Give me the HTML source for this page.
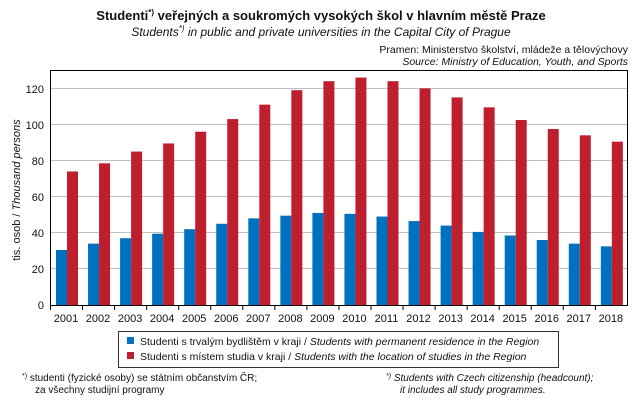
<!DOCTYPE html>
<html><head><meta charset="utf-8"><style>
body{margin:0;background:#fff;width:643px;height:405px;overflow:hidden;font-family:"Liberation Sans",sans-serif;}
</style></head><body>
<svg width="643" height="405" xmlns="http://www.w3.org/2000/svg" font-family="Liberation Sans, sans-serif">
<text x="321" y="20" text-anchor="middle" font-size="13" font-weight="bold" fill="#111">Studenti<tspan font-size="8" dy="-5">*)</tspan><tspan dy="5"> veřejných a soukromých  vysokých  škol v hlavním městě Praze</tspan></text>
<text x="321" y="36" text-anchor="middle" font-size="12" font-style="italic" fill="#111">Students<tspan font-size="8" dy="-5">*)</tspan><tspan dy="5"> in public and private universities in the Capital City of Prague</tspan></text>
<text x="628" y="53" text-anchor="end" font-size="10.5" fill="#111">Pramen:  Ministerstvo školství, mládeže a tělovýchovy</text>
<text x="628" y="65" text-anchor="end" font-size="10.5" font-style="italic" fill="#111">Source: Ministry of Education, Youth, and Sports</text>
<g stroke="#c0c0c0" stroke-width="1">
<line x1="50" x2="627" y1="88.5" y2="88.5"/><line x1="50" x2="627" y1="124.5" y2="124.5"/>
<line x1="50" x2="627" y1="160.5" y2="160.5"/><line x1="50" x2="627" y1="196.5" y2="196.5"/>
<line x1="50" x2="627" y1="232.5" y2="232.5"/><line x1="50" x2="627" y1="268.5" y2="268.5"/>
</g>
<g id="bars"></g>
<rect x="50.5" y="70.5" width="577" height="235" fill="none" stroke="#000" stroke-width="1"/>
<g font-size="11" fill="#111" text-anchor="end">
<text x="44" y="309">0</text><text x="44" y="273">20</text><text x="44" y="237">40</text><text x="44" y="201">60</text><text x="44" y="165">80</text><text x="44" y="129">100</text><text x="44" y="93">120</text>
</g>
<text transform="translate(20,190) rotate(-90)" text-anchor="middle" font-size="11" fill="#111">tis. osob / <tspan font-style="italic">Thousand persons</tspan></text>
<g id="xl" font-size="11" fill="#111" text-anchor="middle"></g>
<rect x="118.5" y="331.5" width="440" height="36" fill="none" stroke="#000" stroke-width="0.8"/>
<rect x="127" y="337" width="7" height="7" fill="#0070c0"/>
<text x="140" y="345" font-size="10.5" fill="#111">Studenti s trvalým bydlištěm v kraji / <tspan font-style="italic">Students with permanent residence in the Region</tspan></text>
<rect x="127" y="352" width="7" height="7" fill="#be1e2d"/>
<text x="140" y="360" font-size="10.5" fill="#111">Studenti s místem studia v kraji / <tspan font-style="italic">Students with the location of studies in the Region</tspan></text>
<text x="22" y="381" font-size="10" fill="#111"><tspan font-size="7" dy="-3">*)</tspan><tspan dy="3"> studenti (fyzické osoby) se státním občanstvím ČR;</tspan></text>
<text x="35" y="393" font-size="10" fill="#111">za všechny studijní programy</text>
<text x="386" y="381" font-size="10" font-style="italic" fill="#111"><tspan font-size="7" dy="-3">*)</tspan><tspan dy="3"> Students with Czech citizenship (headcount);</tspan></text>
<text x="400" y="393" font-size="10" font-style="italic" fill="#111">it includes all study programmes.</text>
</svg>
<script>
var b=[30.5,34,37,39.5,42,45,48,49.5,51,50.5,49,46.5,44,40.5,38.5,36,34,32.5];
var r=[74,78.5,85,89.5,96,103,111,119,124,126,124,120,115,109.5,102.5,97.5,94,90.5];
var ns="http://www.w3.org/2000/svg",g=document.getElementById("bars"),xl=document.getElementById("xl");
function rc(x,y,w,h,f){var e=document.createElementNS(ns,"rect");e.setAttribute("x",x);e.setAttribute("y",y);e.setAttribute("width",w);e.setAttribute("height",h);e.setAttribute("fill",f);g.appendChild(e);}
for(var i=0;i<18;i++){var x0=50+i*32.05;var s=1.805;
rc(x0+6,305-b[i]*s,11,b[i]*s,"#0070c0");rc(x0+17,305-r[i]*s,11,r[i]*s,"#be1e2d");
var l=document.createElementNS(ns,"line");l.setAttribute("x1",x0+0.5);l.setAttribute("x2",x0+0.5);l.setAttribute("y1",305);l.setAttribute("y2",310);l.setAttribute("stroke","#000");g.appendChild(l);
var t=document.createElementNS(ns,"text");t.setAttribute("x",x0+16);t.setAttribute("y",322);t.textContent=2001+i;xl.appendChild(t);}
</script>
</body></html>
